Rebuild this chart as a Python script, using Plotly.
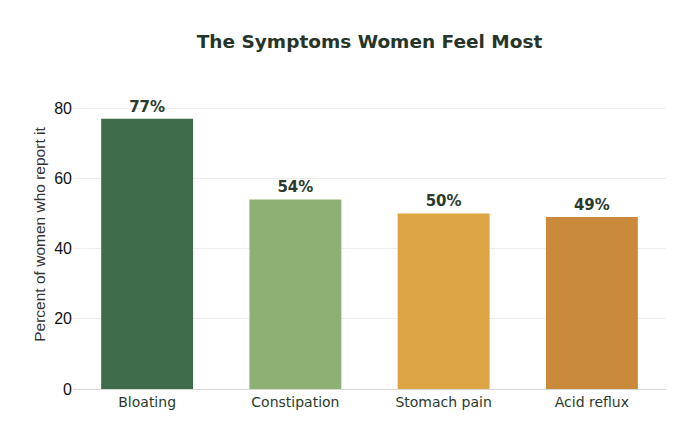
import plotly.graph_objects as go

categories = ["Bloating", "Constipation", "Stomach pain", "Acid reflux"]
values = [77, 54, 50, 49]
colors = ["#3e6b4a", "#8db174", "#dca443", "#c98a3c"]
labels = [f"{v}%" for v in values]

fig = go.Figure(go.Bar(
    x=categories, y=values, marker=dict(color=colors, line=dict(width=0)),
    text=labels, textposition="outside", cliponaxis=False,
    textfont=dict(family="DejaVu Sans", size=15, color="#2a3a2c", weight="bold"),
    width=0.62,
))
fig.update_layout(
    width=700, height=441,
    margin=dict(l=73, r=34, t=80, b=52),
    paper_bgcolor="white", plot_bgcolor="white",
    font=dict(family="DejaVu Sans", color="#2a3a2c"),
    title=dict(text="<b>The Symptoms Women Feel Most</b>", x=0.5, xref="paper", xanchor="center", y=0.905, yanchor="middle",
               font=dict(size=18.5, color="#263528")),
    showlegend=False,
)
fig.update_yaxes(range=[0, 88], tickvals=[0, 20, 40, 60, 80], showgrid=True, gridcolor="#eeeeea",
                 zeroline=False, tickfont=dict(family="Liberation Sans", size=16, color="#111111"),
                 title=dict(text="Percent of women who report it", font=dict(family="Liberation Sans", size=15.5, color="#333333"), standoff=4))
fig.update_xaxes(showline=True, linecolor="#d8d8d2", linewidth=1, tickfont=dict(size=14, color="#2a3a2c"))
fig.write_html("out.html")
